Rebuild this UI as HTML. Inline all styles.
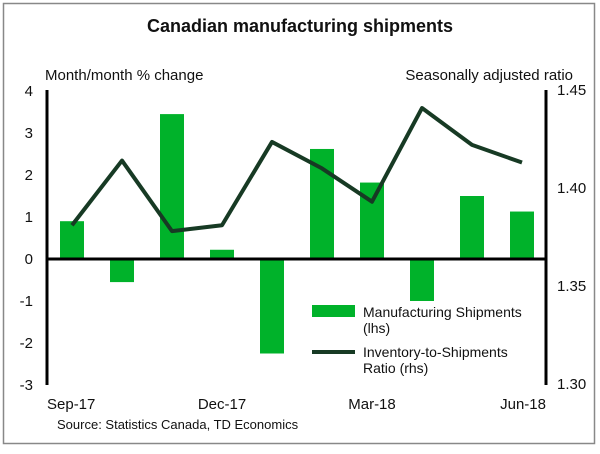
<!DOCTYPE html>
<html><head><meta charset="utf-8"><style>
html,body{margin:0;padding:0;background:#fff}
svg text{font-family:"Liberation Sans",Arial,sans-serif;fill:#111}
</style></head><body>
<svg width="600" height="449" viewBox="0 0 600 449" xmlns="http://www.w3.org/2000/svg">
<rect x="3.5" y="3.5" width="591" height="440" fill="#fff" stroke="#888" stroke-width="1.5"/>
<text x="300" y="32" text-anchor="middle" font-size="18" font-weight="bold">Canadian manufacturing shipments</text>
<text x="45" y="80" font-size="15">Month/month % change</text>
<text x="573" y="80" text-anchor="end" font-size="15">Seasonally adjusted ratio</text>
<g id="bars"></g>
<g id="axes"></g>
<polyline id="ratio-line" fill="none" stroke="#173a24" stroke-width="4" stroke-linejoin="round"/>
<g id="labels"></g>
<rect x="312" y="305" width="43" height="12" fill="#00b22a"/>
<text x="363" y="317" font-size="14">Manufacturing Shipments</text>
<text x="363" y="333" font-size="14">(lhs)</text>
<line x1="312" y1="352" x2="355" y2="352" stroke="#173a24" stroke-width="4"/>
<text x="363" y="357" font-size="14">Inventory-to-Shipments</text>
<text x="363" y="373" font-size="14">Ratio (rhs)</text>
<text x="57" y="429" font-size="13">Source: Statistics Canada, TD Economics</text>
</svg>
<script>
const months = ["Sep-17","Oct-17","Nov-17","Dec-17","Jan-18","Feb-18","Mar-18","Apr-18","May-18","Jun-18"];
const shipments = [0.9,-0.55,3.45,0.22,-2.25,2.62,1.82,-1.0,1.5,1.13];
const ratio = [1.381,1.414,1.378,1.381,1.4235,1.410,1.393,1.4408,1.422,1.413];
const leftTicks = [4,3,2,1,0,-1,-2,-3];
const rightTicks = ["1.45","1.40","1.35","1.30"];
const xLabels = ["Sep-17","Dec-17","Mar-18","Jun-18"];
const NS="http://www.w3.org/2000/svg";
const yL=v=>259-(v)*42;
const yR=v=>90+(1.45-v)*1960;
const xC=i=>72+i*50;
const bars=document.getElementById('bars');
shipments.forEach((v,i)=>{
 const r=document.createElementNS(NS,'rect');
 r.setAttribute('x',xC(i)-12);r.setAttribute('width',24);
 r.setAttribute('y',Math.min(yL(v),yL(0)));r.setAttribute('height',Math.abs(yL(v)-yL(0)));
 r.setAttribute('fill','#00b22a');
 
 
 bars.appendChild(r);
});
const axes=document.getElementById('axes');
function ln(x1,y1,x2,y2,w,name){const l=document.createElementNS(NS,'line');l.setAttribute('x1',x1);l.setAttribute('y1',y1);l.setAttribute('x2',x2);l.setAttribute('y2',y2);l.setAttribute('stroke','#000');l.setAttribute('stroke-width',w);


axes.appendChild(l);}
ln(47,90,47,385,3,'left-axis');
ln(546,90,546,385,3,'right-axis');
ln(47,yL(0),546,yL(0),3,'zero-line');
document.getElementById('ratio-line').setAttribute('points',ratio.map((v,i)=>xC(i)+','+yR(v)).join(' '));
const lab=document.getElementById('labels');
function tx(x,y,s,anchor,name){const t=document.createElementNS(NS,'text');t.setAttribute('x',x);t.setAttribute('y',y);t.setAttribute('font-size','15');t.setAttribute('text-anchor',anchor);t.textContent=s;


lab.appendChild(t);}
leftTicks.forEach(v=>tx(33,yL(v)+5,String(v),'end','left-tick-'+v));
rightTicks.forEach(v=>tx(557,yR(parseFloat(v))+5,v,'start','right-tick-'+v));
xLabels.forEach((s,k)=>{const i=months.indexOf(s);const anc=k===0?'start':(k===xLabels.length-1?'end':'middle');const x=k===0?47:(k===xLabels.length-1?546:xC(i));tx(x,409,s,anc,'x-label-'+s.toLowerCase());});
</script>
</body></html>
